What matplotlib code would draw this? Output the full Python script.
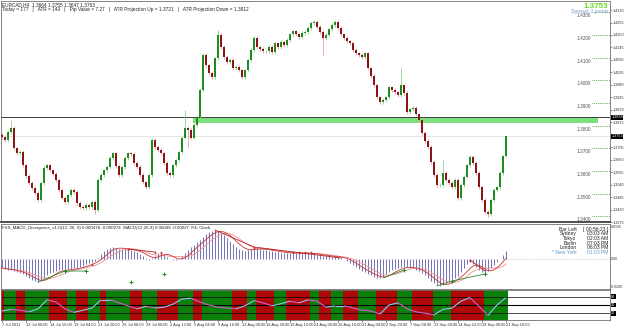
import numpy as np
import pandas as pd
import matplotlib
matplotlib.use('Agg')
import matplotlib.pyplot as plt
from matplotlib.patches import Rectangle
from matplotlib.collections import LineCollection
import matplotlib.transforms as mtransforms

# ---------------- data ----------------
closes = [
    1.3750, 1.3737, 1.3772, 1.3790, 1.3701, 1.3679, 1.3684, 1.3626, 1.3578, 1.3547,
    1.3525, 1.3503, 1.3472, 1.3547, 1.3613, 1.3626, 1.3604, 1.3587, 1.3560, 1.3516,
    1.3481, 1.3463, 1.3494, 1.3516, 1.3507, 1.3459, 1.3441, 1.3437, 1.3450, 1.3441,
    1.3463, 1.3428, 1.3560, 1.3582, 1.3604, 1.3618, 1.3657, 1.3679, 1.3622, 1.3582,
    1.3618, 1.3657, 1.3679, 1.3675, 1.3635, 1.3618, 1.3582, 1.3551, 1.3529, 1.3582,
    1.3737, 1.3706, 1.3693, 1.3679, 1.3635, 1.3591, 1.3582, 1.3626, 1.3648, 1.3684,
    1.3746, 1.3790, 1.3781, 1.3746, 1.3803, 1.3838, 1.3957, 1.4112, 1.4067, 1.4032,
    1.4015, 1.4098, 1.4200, 1.4147, 1.4103, 1.4081, 1.4090, 1.4054, 1.4059, 1.4045,
    1.4015, 1.4045, 1.4090, 1.4134, 1.4187, 1.4147, 1.4138, 1.4129, 1.4129, 1.4147,
    1.4125, 1.4164, 1.4147, 1.4169, 1.4156, 1.4178, 1.4204, 1.4217, 1.4204, 1.4191,
    1.4209, 1.4213, 1.4231, 1.4253, 1.4257, 1.4235, 1.4213, 1.4187, 1.4200, 1.4226,
    1.4244, 1.4257, 1.4231, 1.4204, 1.4187, 1.4173, 1.4164, 1.4134, 1.4120, 1.4112,
    1.4103, 1.4120, 1.4054, 1.4019, 1.3979, 1.3926, 1.3904, 1.3913, 1.3926, 1.3970,
    1.3957, 1.3948, 1.3935, 1.3979, 1.3944, 1.3860, 1.3873, 1.3878, 1.3851, 1.3825,
    1.3768, 1.3732, 1.3706, 1.3640, 1.3582, 1.3538, 1.3538, 1.3591, 1.3560, 1.3547,
    1.3529, 1.3560, 1.3481, 1.3538, 1.3574, 1.3626, 1.3662, 1.3635, 1.3591, 1.3529,
    1.3472, 1.3419, 1.3410, 1.3472, 1.3516, 1.3529, 1.3591, 1.3664, 1.3753,
]
first_open = 1.3760
spike_high = {3: 1.3825, 61: 1.3869, 72: 1.4222, 111: 1.4266, 133: 1.4059, 147: 1.3648}
spike_low = {31: 1.3410, 62: 1.3706, 107: 1.4112, 162: 1.3397}

macd_e4 = [
    -5.4, -6.0, -6.6, -6.6, -7.2, -7.8, -8.4, -9.0, -10.2, -11.4,
    -12.6, -13.2, -13.8, -13.2, -11.4, -9.6, -8.4, -7.8, -7.2, -6.6,
    -6.6, -6.6, -6.0, -6.0, -5.4, -5.4, -4.8, -4.2, -3.0, -2.4,
    -1.8, -1.2, 0.6, 3.0, 4.8, 6.0, 6.6, 7.2, 6.6, 6.0,
    6.0, 6.0, 5.4, 5.4, 4.8, 4.2, 3.0, 1.8, 0.6, -0.6,
    0.6, 1.8, 3.6, 4.2, 3.0, 1.2, 0.0, -0.6, -0.6, 0.0,
    1.8, 3.6, 5.4, 7.2, 8.4, 10.2, 11.4, 13.2, 15.0, 16.2,
    16.8, 17.4, 16.8, 15.6, 14.4, 12.6, 10.8, 9.0, 7.2, 6.0,
    5.4, 4.8, 5.4, 6.0, 6.6, 6.6, 6.0, 5.4, 5.4, 4.8,
    4.8, 4.2, 4.2, 3.6, 3.6, 3.6, 3.6, 3.6, 3.6, 3.6,
    3.6, 3.6, 3.6, 3.0, 3.0, 2.4, 2.4, 1.8, 1.8, 1.8,
    1.2, 1.2, 1.2, 0.6, 0.0, -1.2, -2.4, -3.6, -4.8, -6.0,
    -7.2, -7.8, -9.0, -9.6, -10.8, -11.4, -11.4, -10.2, -9.0, -7.8,
    -6.6, -6.0, -5.4, -4.8, -4.8, -4.8, -5.4, -5.4, -6.6, -7.2,
    -8.4, -9.6, -11.4, -13.2, -14.4, -15.6, -16.2, -15.6, -14.4, -13.2,
    -12.0, -11.4, -10.2, -7.8, -5.4, -3.0, -1.8, -3.0, -4.8, -6.6,
    -7.8, -8.4, -7.2, -5.4, -3.6, -1.8, 0.0, 2.4, 4.8,
]

# divergence lines (bar index, MACD value x1e-4)
div_green = [[(12, -13.8), (21, -7.2), (28, -7.2)],
             [(127, -11.4), (134, -6.6)],
             [(145, -16.2), (150, -13.2), (161, -9.0)]]
div_red = [[(42, 6.0), (51, 4.2)],
           [(71, 17.4), (84, 7.2), (113, 0.6)],
           [(156, -0.6), (161, -7.2)]]
mark_green = [(21, -7.2), (28, -7.2), (134, -6.6), (150, -13.2), (161, -9.0),
              (43, -13.8), (54, -9.0)]
mark_red = [(30, -3.0), (42, 6.0), (51, 4.2), (53, 4.2), (84, 7.2),
            (97, 4.2), (99, 4.2), (101, 4.2), (103, 4.2), (156, -0.6)]

# oscillator (every 3rd bar)
stoch = [28, 34, 31, 25, 36, 69, 61, 36, 23, 31, 39, 69, 69, 58, 47, 36, 45, 39, 42,
         53, 72, 75, 61, 50, 42, 39, 36, 47, 66, 58, 47, 55, 64, 58, 69, 64, 42, 47,
         47, 39, 31, 28, 17, 50, 58, 36, 25, 20, 14, 34, 39, 64, 77, 45, 12, 50, 77]

# colour stripes: (colour, number of bars)
band_runs = [('r', 1), ('g', 4), ('r', 3), ('g', 8), ('r', 6), ('g', 3), ('r', 4),
             ('g', 4), ('r', 2), ('g', 8), ('r', 4), ('g', 5), ('r', 7), ('g', 5),
             ('r', 3), ('g', 10), ('r', 5), ('g', 3), ('r', 6), ('g', 4), ('r', 8),
             ('g', 3), ('r', 4), ('g', 4), ('r', 5), ('g', 6), ('r', 7), ('g', 5),
             ('r', 7), ('g', 6), ('r', 11), ('g', 8)]

price_ticks = [1.4310, 1.4255, 1.4200, 1.4145, 1.4090, 1.4035, 1.3980, 1.3925,
               1.3870, 1.3815, 1.3705, 1.3650, 1.3595, 1.3540, 1.3485, 1.3430, 1.3375]
level_lines = [1.43, 1.42, 1.41, 1.40, 1.39, 1.38, 1.37, 1.36, 1.35, 1.34]
resist_line = 1.3838
zone_low, zone_high = 1.3812, 1.3838
bid = 1.3753

x_labels = ['7 Jul 2011', '12 Jul 00:00', '14 Jul 16:00', '19 Jul 04:00', '21 Jul 20:00',
            '26 Jul 08:00', '29 Jul 00:00', '2 Aug 12:00', '5 Aug 04:00', '9 Aug 16:00',
            '12 Aug 08:00', '16 Aug 20:00', '19 Aug 12:00', '24 Aug 00:00', '26 Aug 16:00',
            '31 Aug 04:00', '2 Sep 20:00', '7 Sep 08:00', '11 Sep 20:00', '14 Sep 12:00',
            '19 Sep 00:00', '21 Sep 16:00']

header1 = 'EURCAD,H4  1.3664 1.3755 1.3647 1.3753'
header2 = ('Today = 177   |   ATR = 143   |   Pip Value = 7.27   |   '
           'ATR Projection Up = 1.3721   |   ATR Projection Down = 1.3612')
macd_header = ('FXS_MACD_Divergence_v1.0(12, 26, 9) 0.000478 -0.000274  '
               'MACD(12,26,9) 0.00048 -0.00027  P4; Clock')
clock_names = ['Bar Left', 'Sydney', 'Tokyo', 'Berlin', 'London', '* New York']
clock_times = ['[ 00:56:23 ]', '03:03 AM', '02:03 AM', '07:03 PM', '06:03 PM', '01:03 PM']

# ---------------- figure ----------------
W, H = 625, 328
fig = plt.figure(figsize=(W / 100, H / 100), dpi=100)
fig.patch.set_facecolor('white')
FONT = ['Liberation Sans', 'DejaVu Sans']
NARROW = ['Liberation Sans Narrow', 'Liberation Sans', 'DejaVu Sans']
FS = 3.4
FSA = 2.7


def px_axes(x0, y0, x1, y1):
    return fig.add_axes([x0 / W, 1 - y1 / H, (x1 - x0) / W, (y1 - y0) / H])


N = len(closes)
XL = (-1 / 3, 609 / 3 - 1 / 3)

ax = px_axes(1, 1, 610, 222)
axm = px_axes(1, 224, 610, 289)
axb = px_axes(1, 290, 610, 320)

for a in (ax, axm, axb):
    a.set_xlim(*XL)
    a.set_facecolor('white')
    for s in a.spines.values():
        s.set_color('#707070')
        s.set_linewidth(0.6)
    a.tick_params(axis='x', bottom=False, labelbottom=False)
    a.yaxis.tick_right()
    a.tick_params(axis='y', length=1.2, width=0.4, pad=0.6, labelsize=FSA, colors='#333333')

# ---- main price panel ----
ax.set_ylim(1.3375, 1.4350)
ax.set_yticks(price_ticks)
ax.set_yticklabels([f'{p:.4f}' for p in price_ticks], fontfamily=NARROW)
ax.spines['bottom'].set_linewidth(1.3)
ax.spines['bottom'].set_color('#404040')

ax.axhline(bid, color='#dcdcdc', lw=0.5, zorder=1)
ax.axhspan(zone_low, zone_high, xmin=(193 - 1) / 609, xmax=(598 - 1) / 609,
           color='#7ee07e', lw=0, zorder=2)
ax.axhline(resist_line, color='#404040', lw=0.7, zorder=3)

opens = [first_open] + closes[:-1]
opens[-1] = 1.3664
for i, (o, c) in enumerate(zip(opens, closes)):
    up = c >= o
    hi = max(o, c) + 0.0007
    lo = min(o, c) - 0.0007
    hi = max(hi, spike_high.get(i, hi))
    lo = min(lo, spike_low.get(i, lo))
    wick = '#8fd08f' if up else '#e0a0a0'
    body = '#1e8c1e' if up else '#8c1414'
    ax.vlines(i, lo, hi, color=wick, lw=0.6, zorder=4)
    ax.add_patch(Rectangle((i - 0.28, min(o, c)), 0.56, max(abs(c - o), 0.00012),
                           facecolor=body, edgecolor='none', zorder=5))

lx0 = (592 - 1) / 3 - 1 / 3
ax.hlines(level_lines, lx0, XL[1], colors='#3a9a3a', linestyles=(0, (1, 1.2)), lw=0.6, zorder=3)
for lv in level_lines:
    ax.text(lx0 - 0.3, lv - 0.0004, f'{lv:.4f}', ha='right', va='top', fontsize=FS,
            color='#555555', fontfamily=FONT, zorder=6)

blend = mtransforms.blended_transform_factory(ax.transAxes, ax.transData)
for val in (resist_line, bid):
    ax.text(1.002, val, f'{val:.4f}', transform=blend, ha='left', va='center',
            fontsize=FSA, color='white', fontfamily=NARROW, clip_on=False,
            bbox=dict(boxstyle='square,pad=0.12', fc='black', ec='none'), zorder=10)

ax.text(0.002, 0.995, header1, transform=ax.transAxes, ha='left', va='top',
        fontsize=FS, color='#222222', fontfamily=FONT)
ax.text(0.002, 0.972, header2, transform=ax.transAxes, ha='left', va='top',
        fontsize=FS, color='#222222', fontfamily=FONT)
ax.text(0.997, 0.992, f'{closes[-1]:.4f}', transform=ax.transAxes, ha='right', va='top',
        fontsize=5.8, color='#66dd22', fontweight='bold', fontfamily=FONT, zorder=7)
ax.text(0.997, 0.964, 'Spread: 7 points', transform=ax.transAxes, ha='right', va='top',
        fontsize=FS + 0.3, color='#7a9cc8', fontfamily=FONT, zorder=7)

# ---- MACD panel ----
macd = np.array(macd_e4) * 1e-4
idx = np.arange(N)
axm.set_ylim(-0.0018, 0.0021)
axm.set_yticks([])
axm.vlines(idx, 0, macd, color='#7676b8', lw=0.75, zorder=2)
sig1 = pd.Series(macd).rolling(5, min_periods=1).mean()
sig2 = pd.Series(macd).rolling(9, min_periods=1).mean()
axm.plot(idx, sig2, color='#f09090', lw=0.6, zorder=3)
axm.plot(idx, sig1, color='#cc3333', lw=0.6, zorder=3)
for seg in div_green:
    xs, ys = zip(*seg)
    axm.plot(xs, np.array(ys) * 1e-4, color='#2e8b2e', lw=0.6, zorder=4)
for seg in div_red:
    xs, ys = zip(*seg)
    axm.plot(xs, np.array(ys) * 1e-4, color='#b22222', lw=0.6, zorder=4)
gx, gy = zip(*mark_green)
axm.plot(gx, np.array(gy) * 1e-4, '+', color='#1e8c1e', ms=2.5, mew=0.7, zorder=5)
rx, ry = zip(*mark_red)
axm.plot(rx, np.array(ry) * 1e-4, '^', color='#cc2222', ms=1.8, mew=0, zorder=5)
axm.hlines(0, N - 1, XL[1], colors='#aaaaaa', linestyles=(0, (1, 1.5)), lw=0.5)
axm.text(0.002, 0.97, macd_header, transform=axm.transAxes, ha='left', va='top',
         fontsize=FS - 0.2, color='#222222', fontfamily=FONT)
for k, (nm, tm) in enumerate(zip(clock_names, clock_times)):
    col = '#6699cc' if k == len(clock_names) - 1 else '#222222'
    yy = 0.96 - k * 0.072
    axm.text(0.945, yy, nm, transform=axm.transAxes, ha='right', va='top',
             fontsize=FS + 0.2, color=col, fontfamily=FONT)
    axm.text(0.997, yy, tm, transform=axm.transAxes, ha='right', va='top',
             fontsize=FS + 0.2, color=col, fontfamily=FONT)
bm = mtransforms.blended_transform_factory(axm.transAxes, axm.transData)
for val, lab in ((0.0019, '0.0156'), (0.0, '0.00'), (-0.0017, '-0.0200')):
    axm.text(1.002, val, lab, transform=bm, ha='left', va='center', fontsize=FSA - 0.2,
             color='#333333', fontfamily=NARROW, clip_on=False)

# ---- colour band / oscillator panel ----
axb.set_ylim(-5, 105)
axb.set_yticks([])
pos = 0
for col, n in band_runs:
    if pos >= N:
        break
    end = min(pos + n, N)
    axb.axvspan(pos - 0.5, end - 0.5, color='#0a800a' if col == 'g' else '#b00808',
                lw=0, zorder=1)
    pos = end
for lv, lw in ((80, 0.5), (50, 0.8), (20, 0.5)):
    axb.axhline(lv, color='black', lw=lw, zorder=2)
sx = np.arange(0, N, 3)[:len(stoch)]
sy = np.array(stoch, dtype=float)
segs = [[(sx[k], sy[k]), (sx[k + 1], sy[k + 1])] for k in range(len(sx) - 1)]
cols = ['#8ec8f0' if sy[k + 1] >= sy[k] else '#d060d0' for k in range(len(sx) - 1)]
axb.add_collection(LineCollection(segs, colors=cols, linewidths=0.8, zorder=3))
bb = mtransforms.blended_transform_factory(axb.transAxes, axb.transData)
for val in (80, 50, 20):
    axb.text(1.002, val, f'{val}', transform=bb, ha='left', va='center', fontsize=FSA,
             color='white', fontfamily=NARROW, clip_on=False,
             bbox=dict(boxstyle='square,pad=0.12', fc='black', ec='none'))

# x labels
tick_pos = np.linspace(0, N - 1, len(x_labels))
axb.set_xticks(tick_pos)
axb.set_xticklabels(x_labels, fontsize=2.9, fontfamily=NARROW, ha='left', color='#333333')
axb.tick_params(axis='x', bottom=True, labelbottom=True, length=1.2, width=0.4, pad=0.8)

fig.savefig('out.png', dpi=100, facecolor='white')
